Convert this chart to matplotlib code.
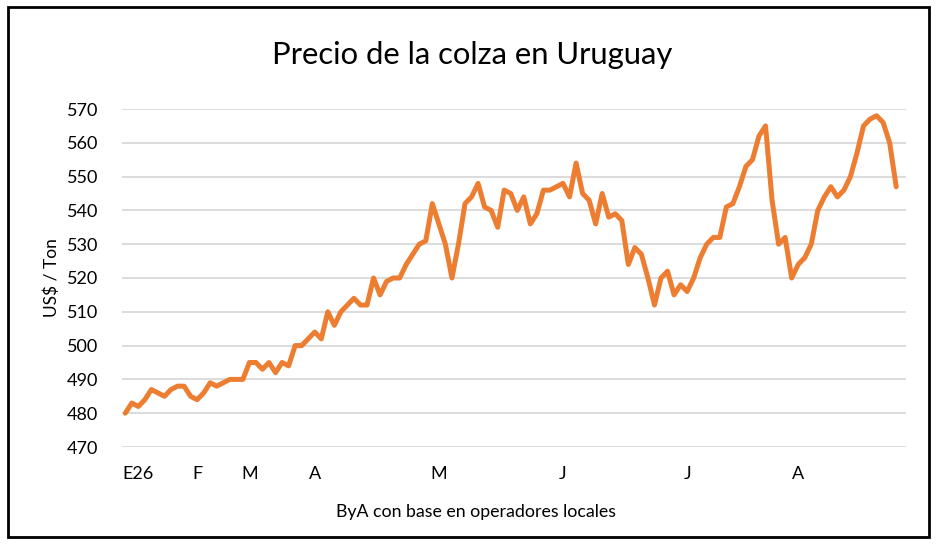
import matplotlib
matplotlib.use("Agg")
import matplotlib.pyplot as plt
from matplotlib.patches import Rectangle

plt.rcParams['font.family'] = ['Lato', 'DejaVu Sans']

# precio de la colza, US$/ton (serie)
precio = [
    480, 483, 482, 484, 487, 486, 485, 487, 488, 488,
    485, 484, 486, 489, 488, 489, 490, 490, 490, 495,
    495, 493, 495, 492, 495, 494, 500, 500, 502, 504,
    502, 510, 506, 510, 512, 514, 512, 512, 520, 515,
    519, 520, 520, 524, 527, 530, 531, 542, 536, 530,
    520, 530, 542, 544, 548, 541, 540, 535, 546, 545,
    540, 544, 536, 539, 546, 546, 547, 548, 544, 554,
    545, 543, 536, 545, 538, 539, 537, 524, 529, 527,
    520, 512, 520, 522, 515, 518, 516, 520, 526, 530,
    532, 532, 541, 542, 547, 553, 555, 562, 565, 543,
    530, 532, 520, 524, 526, 530, 540, 544, 547, 544,
    546, 550, 557, 565, 567, 568, 566, 560, 547,
]
mes_pos = [2, 11, 19, 29, 48, 67, 86, 103]
mes_labels = ['E26', 'F', 'M', 'A', 'M', 'J', 'J', 'A']
y_ticks = list(range(470, 571, 10))

W, H = 936, 547
fig = plt.figure(figsize=(W / 100, H / 100), dpi=100)
ax = fig.add_axes([122 / W, 1 - 447 / H, 784 / W, 338 / H])

ax.plot(range(len(precio)), precio, color='#ED7D31', linewidth=3.6,
        solid_joinstyle='round', solid_capstyle='round', zorder=3)

ax.set_xlim(-0.5, 119.5)
ax.set_ylim(470, 570)
ax.set_yticks(y_ticks)
ax.set_xticks(mes_pos)
ax.set_xticklabels(mes_labels)
ax.tick_params(axis='both', length=0, labelsize=13, colors='black')
ax.tick_params(axis='x', pad=14)
ax.tick_params(axis='y', pad=17)
ax.grid(axis='y', color='#D9D9D9', linewidth=1.3)
ax.set_axisbelow(True)
for s in ax.spines.values():
    s.set_visible(False)

ax.set_ylabel('US$ / Ton', fontsize=12.5, labelpad=5)

fig.text(472 / W, 1 - 55 / H, 'Precio de la colza en Uruguay', fontsize=22.3,
         ha='center', va='center')
fig.text(476 / W, 1 - 512 / H, 'ByA con base en operadores locales', fontsize=12.8,
         ha='center', va='center')

fig.patches.append(Rectangle((8 / W, 1 - 537 / H), 921 / W, 530 / H,
                             transform=fig.transFigure, fill=False,
                             edgecolor='black', linewidth=2))

fig.savefig('out.png', dpi=100)
